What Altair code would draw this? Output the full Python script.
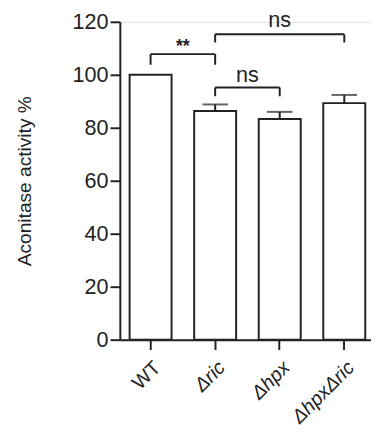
import altair as alt
import pandas as pd

categories = ["WT", "Δric", "Δhpx", "ΔhpxΔric"]
means = [100.0, 86.3, 83.3, 89.3]
errors = [0.0, 2.5, 2.7, 3.1]

# significance brackets
br_left = ["WT", "Δric", "Δric"]
br_right = ["Δric", "Δhpx", "ΔhpxΔric"]
br_top = [107.8, 95.2, 115.3]
br_leg = [103.8, 91.9, 112.2]
br_label = ["**", "ns", "ns"]
br_label_y = [110.5, 100.0, 120.5]

y_ticks = [0, 20, 40, 60, 80, 100, 120]

INK = "#222222"
FONT = "Liberation Sans"

bars_df = pd.DataFrame({"cat": categories, "mean": means, "err": errors})
bars_df["hi"] = bars_df["mean"] + bars_df["err"]
err_df = bars_df[bars_df["err"] > 0]

br_df = pd.DataFrame({"l": br_left, "r": br_right, "top": br_top, "leg": br_leg,
                      "label": br_label, "ly": br_label_y})

xscale = alt.Scale(domain=categories, paddingInner=0.35, paddingOuter=0.12, align=0.63)
yscale = alt.Scale(domain=[0, 120], nice=False)

x_axis = alt.Axis(
    title=None, labelAngle=-45, labelFontSize=20, labelFont=FONT, labelColor=INK,
    tickSize=10, tickWidth=2, tickColor=INK, domainColor=INK, domainWidth=2,
    labelPadding=8,
    labelFontStyle={"condition": {"test": "datum.value != 'WT'", "value": "italic"}, "value": "normal"},
)
y_axis = alt.Axis(
    title="Aconitase activity %", values=y_ticks, labelFontSize=22, labelFont=FONT,
    labelColor=INK, tickSize=10, tickWidth=2, tickColor=INK, domainColor=INK, domainWidth=2,
    titleFontSize=19.5, titleFont=FONT, titleFontWeight="normal", titleColor=INK,
    titlePadding=38, labelPadding=2, grid=False,
)

base = alt.Chart(bars_df)

bars = base.mark_bar(fill="white", stroke=INK, strokeWidth=2).encode(
    x=alt.X("cat:N", scale=xscale, axis=x_axis, sort=categories),
    y=alt.Y("mean:Q", scale=yscale, axis=y_axis),
)

err_rule = alt.Chart(err_df).mark_rule(color=INK, strokeWidth=2).encode(
    x=alt.X("cat:N", sort=categories), y="mean:Q", y2="hi:Q"
)
err_cap = alt.Chart(err_df).mark_tick(color=INK, thickness=2, size=26, orient="horizontal").encode(
    x=alt.X("cat:N", sort=categories), y="hi:Q"
)

br_h = alt.Chart(br_df).mark_rule(color=INK, strokeWidth=2).encode(
    x=alt.X("l:N", sort=categories), x2="r:N", y="top:Q"
)
br_l = alt.Chart(br_df).mark_rule(color=INK, strokeWidth=2).encode(
    x=alt.X("l:N", sort=categories), y="top:Q", y2="leg:Q"
)
br_r = alt.Chart(br_df).mark_rule(color=INK, strokeWidth=2).encode(
    x=alt.X("r:N", sort=categories), y="top:Q", y2="leg:Q"
)

def label_layer(i, dx, size, weight="normal"):
    d = br_df.iloc[[i]]
    return alt.Chart(d).mark_text(font=FONT, fontSize=size, color=INK, dx=dx,
                                  fontWeight=weight, baseline="middle", clip=False).encode(
        x=alt.X("r:N", sort=categories), y="ly:Q", text="label:N"
    )

lab0 = label_layer(0, -33, 18, "bold")
lab1 = label_layer(1, -33, 22)
lab2 = label_layer(2, -66, 22)

chart = alt.layer(bars, err_rule, err_cap, br_h, br_l, br_r, lab0, lab1, lab2).properties(
    width=256, height=324, padding={"left": 7, "top": -3, "right": 0, "bottom": 0}
).configure_view(stroke=None).configure(background="white")

chart.save("out.html", embed_options={"renderer": "svg", "actions": False})
